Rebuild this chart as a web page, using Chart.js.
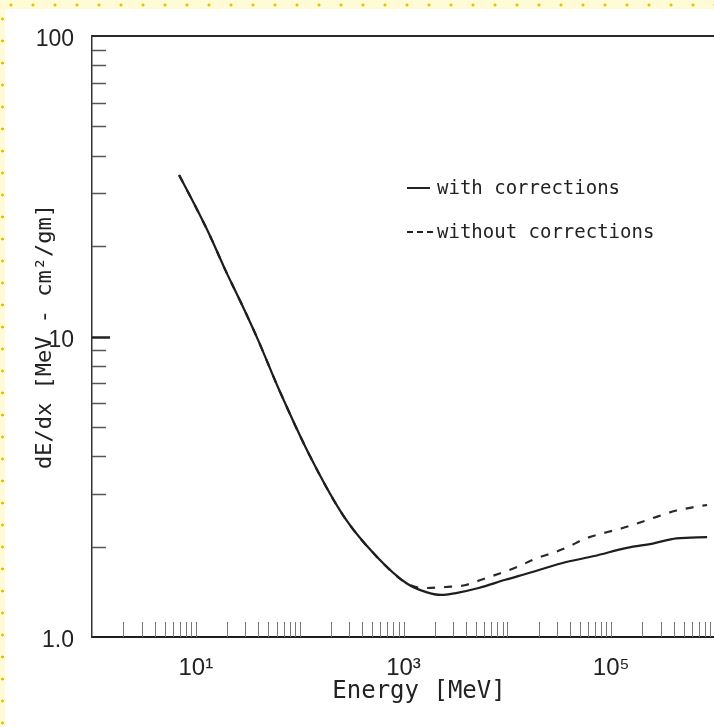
<!DOCTYPE html>
<html>
<head>
<meta charset="utf-8">
<script src="https://cdn.jsdelivr.net/npm/chart.js@4.4.1/dist/chart.umd.min.js"></script>
<style>
  html, body { margin: 0; padding: 0; background: #fff; overflow: hidden; }
  #wrap { position: relative; width: 724px; height: 727px; }
  #frameTop {
    position: absolute; left: 0; top: 0; width: 714px; height: 9px;
    background-color: #fffbd6;
    background-image: radial-gradient(circle, #f0c000 1.3px, transparent 1.8px);
    background-size: 22px 10px; background-position: 0 0;
  }
  #frameLeft {
    position: absolute; left: 0; top: 0; width: 5px; height: 727px;
    background-color: #fffbd6;
    background-image: radial-gradient(circle, #f0c000 1.3px, transparent 1.8px);
    background-size: 5px 22px; background-position: 0 8px;
  }
</style>
</head>
<body>
<div id="wrap">
  <canvas id="chart" width="724" height="727"></canvas>
  <div id="frameTop"></div>
  <div id="frameLeft"></div>
</div>
<script>
// dE/dx curve with density corrections
const energyWith = [6.9, 9.2, 13.3, 19.3, 27.4, 39.8, 61.7, 127, 268, 553, 1068, 1657, 2300, 3200, 5290, 9570, 15850, 33400, 68900, 142000, 257000, 425000, 839000];
const dedxWith = [34.5, 28.5, 22.1, 16.6, 12.9, 9.73, 6.79, 3.97, 2.51, 1.85, 1.51, 1.41, 1.38, 1.40, 1.455, 1.55, 1.63, 1.76, 1.86, 1.98, 2.05, 2.13, 2.15];

// same curve without corrections (splits off above ~1 GeV)
const energyWithout = [6.9, 9.2, 13.3, 19.3, 27.4, 39.8, 61.7, 127, 268, 553, 1068, 1550, 2570, 3980, 5910, 8570, 12450, 18500, 26800, 38100, 55300, 85700, 127000, 193000, 274000, 416000, 645000, 839000];
const dedxWithout = [34.5, 28.5, 22.1, 16.6, 12.9, 9.73, 6.79, 3.97, 2.51, 1.85, 1.51, 1.455, 1.467, 1.49, 1.56, 1.63, 1.71, 1.82, 1.90, 1.99, 2.12, 2.22, 2.30, 2.41, 2.51, 2.63, 2.71, 2.75];

const seriesLabels = ['with corrections', 'without corrections'];
const xTitle = 'Energy [MeV]';
const yTitle = 'dE/dx [MeV - cm\u00B2/gm]';

// tick labels
const xTickValues = [10, 1000, 100000];
const xTickLabels = ['10\u00B9', '10\u00B3', '10\u2075'];
const yTickValues = [1, 10, 100];
const yTickLabels = ['1.0', '10', '100'];

function toPoints(xs, ys) {
    return xs.map((x, i) => ({ x: x, y: ys[i] }));
}

function findLabel(value, values, labels) {
    for (var i = 0; i < values.length; i++) {
        if (Math.abs(value - values[i]) / values[i] < 1e-6) return labels[i];
    }
    return '';
}

// inward minor ticks, top frame line, x title and the legend inside the plot
const decorPlugin = {
    id: 'decor',
    afterDraw(chart) {
        const ctx = chart.ctx;
        const area = chart.chartArea;
        const xs = chart.scales.x;
        const ys = chart.scales.y;
        ctx.save();

        // top frame line
        ctx.strokeStyle = '#2a2a2a';
        ctx.lineWidth = 2;
        ctx.beginPath();
        ctx.moveTo(area.left, area.top);
        ctx.lineTo(area.right, area.top);
        ctx.stroke();

        // y axis ticks pointing into the plot
        for (var d = 1; d < 100; d *= 10) {
            for (var m = 1; m <= 10; m++) {
                var v = m * d;
                if (v <= 1 || v >= 100) continue;
                var py = Math.round(ys.getPixelForValue(v)) + 0.5;
                var major = (m === 1 || m === 10);
                ctx.strokeStyle = major ? '#222' : '#555';
                ctx.lineWidth = major ? 2 : 1.5;
                ctx.beginPath();
                ctx.moveTo(area.left, py);
                ctx.lineTo(area.left + (major ? 18 : 14), py);
                ctx.stroke();
            }
        }

        // x axis ticks pointing up
        ctx.strokeStyle = '#777';
        ctx.lineWidth = 1;
        for (var e = 1; e < 1e6; e *= 10) {
            for (var k = 1; k <= 9; k++) {
                var xv = k * e;
                if (xv <= 1) continue;
                var px = Math.round(xs.getPixelForValue(xv)) + 0.5;
                ctx.beginPath();
                ctx.moveTo(px, area.bottom);
                ctx.lineTo(px, area.bottom - 15);
                ctx.stroke();
            }
        }

        // x axis title
        ctx.font = '24px "DejaVu Sans Mono"';
        ctx.fillStyle = '#222';
        ctx.textAlign = 'center';
        ctx.textBaseline = 'middle';
        ctx.fillText(xTitle, 419, 692);

        // legend
        ctx.font = '19px "DejaVu Sans Mono"';
        ctx.textAlign = 'left';
        chart.data.datasets.forEach(function (ds, i) {
            var ly = 188 + i * 44;
            ctx.strokeStyle = '#222';
            ctx.lineWidth = 2;
            ctx.setLineDash(i === 0 ? [] : [6, 4]);
            ctx.beginPath();
            ctx.moveTo(407, ly);
            ctx.lineTo(i === 0 ? 430 : 435, ly);
            ctx.stroke();
            ctx.setLineDash([]);
            ctx.fillText(ds.label, 437, ly + 1);
        });

        ctx.restore();
    }
};

var ctx = document.getElementById('chart').getContext('2d');

var dedxChart = new Chart(ctx, {
    type: 'line',
    data: {
        datasets: [{
            label: seriesLabels[0],
            data: toPoints(energyWith, dedxWith),
            borderColor: '#1e1e1e',
            borderWidth: 2.2,
            pointRadius: 0,
            cubicInterpolationMode: 'monotone',
            order: 0
        }, {
            label: seriesLabels[1],
            data: toPoints(energyWithout, dedxWithout),
            borderColor: '#2a2a2a',
            borderWidth: 2.2,
            borderDash: [8, 9],
            pointRadius: 0,
            cubicInterpolationMode: 'monotone',
            order: 1
        }]
    },
    options: {
        responsive: false,
        animation: false,
        layout: { padding: { top: 36, right: 2, left: 0, bottom: 0 } },
        plugins: {
            legend: { display: false },
            tooltip: { enabled: false }
        },
        scales: {
            x: {
                type: 'logarithmic',
                min: 1,
                max: 1e6,
                afterFit: function (scale) { scale.height = 90; },
                grid: { display: false },
                border: { display: true, color: '#1e1e1e', width: 2 },
                ticks: {
                    autoSkip: false,
                    maxRotation: 0,
                    padding: 9,
                    color: '#222',
                    font: { family: 'Liberation Sans', size: 24 },
                    callback: function (value) { return findLabel(value, xTickValues, xTickLabels); }
                }
            },
            y: {
                type: 'logarithmic',
                min: 1,
                max: 100,
                afterFit: function (scale) { scale.width = 92; },
                grid: { display: false },
                border: { display: true, color: '#333', width: 1.5 },
                ticks: {
                    autoSkip: false,
                    padding: 10,
                    labelOffset: 4,
                    color: '#222',
                    font: { family: 'Liberation Sans', size: 23 },
                    callback: function (value) { return findLabel(value, yTickValues, yTickLabels); }
                },
                title: {
                    display: true,
                    text: yTitle,
                    color: '#222',
                    font: { family: 'DejaVu Sans Mono', size: 22 },
                    padding: { top: 32, bottom: 0 }
                }
            }
        }
    },
    plugins: [decorPlugin]
});
</script>
</body>
</html>
